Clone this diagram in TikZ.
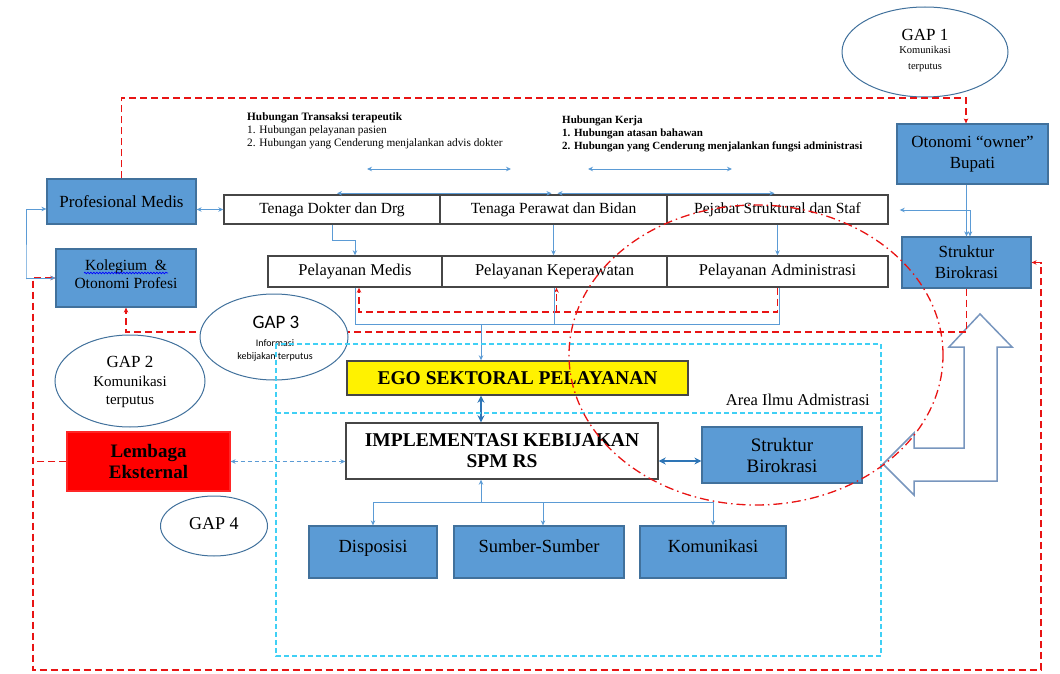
\documentclass[tikz,border=0pt]{standalone}
\usepackage{fontspec}
\setmainfont{Liberation Serif}
\newfontfamily\calfont{Carlito}
\usetikzlibrary{arrows.meta,shapes.geometric,decorations.pathmorphing}
\definecolor{boxblue}{RGB}{91,155,213}
\definecolor{boxedge}{RGB}{65,113,156}
\definecolor{conblue}{RGB}{91,155,213}
\definecolor{darkblue}{RGB}{46,117,182}
\definecolor{areacyan}{RGB}{64,208,245}
\definecolor{arrowedge}{RGB}{120,150,190}
\definecolor{darkedge}{RGB}{70,70,70}
\definecolor{gapred}{RGB}{232,20,20}
\newcommand{\fsz}[2]{\fontsize{#1}{#2}\selectfont}
\pgfdeclarelayer{bg}
\pgfsetlayers{bg,main}

\begin{document}
\begin{tikzpicture}[x=1pt,y=-1pt,>={Stealth[length=5pt,width=4.5pt]},
  bluebox/.style={draw=boxedge, fill=boxblue, line width=1.2pt, inner sep=0pt, align=center},
  plainbox/.style={draw=darkedge, fill=white, line width=1.4pt, inner sep=0pt, align=center},
  gapell/.style={ellipse, draw=boxedge, fill=white, line width=1pt, inner sep=0pt},
  gaptext/.style={inner sep=0pt, align=center},
  bluecon/.style={draw=conblue, line width=1pt},
  bluebold/.style={draw=darkblue, line width=2pt, >={Stealth[length=7pt,width=7pt]}},
  bluedash/.style={draw=conblue, line width=1pt, dash pattern=on 4pt off 3pt},
  reddash/.style={draw=gapred, line width=1.2pt, dash pattern=on 7pt off 4pt},
  reddashdot/.style={draw=gapred, line width=1.3pt, dash pattern=on 9pt off 4pt on 1.5pt off 4pt},
  areadash/.style={draw=areacyan, line width=1.2pt, dash pattern=on 5pt off 3pt},
  blockarrow/.style={draw=arrowedge, fill=white, line width=1.5pt, line join=miter}]
\useasboundingbox (0,0) rectangle (1060,674);

\coordinate (topR) at (966,98);
\coordinate (hubTa) at (367,169);
\coordinate (hubTb) at (511,169);
\coordinate (hubKa) at (588,169);
\coordinate (hubKb) at (732,169);
\coordinate (jn) at (970,210);
\coordinate (lb) at (26,279);
\coordinate (rl) at (33,670);
\coordinate (rr) at (1041,670);
\coordinate (gapline) at (0,332);
\coordinate (redmid) at (0,312);
\coordinate (bluemid) at (0,324);
\coordinate (egoIn) at (481,0);
\coordinate (implY) at (0,461);
\coordinate (tree) at (0,502);
\coordinate (areaNW) at (276,344);
\coordinate (areaSE) at (881,656);
\coordinate (areaW) at (276,413);
\coordinate (areaE) at (881,413);

% gaps
\node[gapell, minimum width=166, minimum height=90] (gap1) at (925,52) {};
\node[gaptext, font=\fsz{17}{20}] (gap1t) at (925,35) {GAP 1};
\node[gaptext, font=\fsz{10.5}{16}] (gap1s) at (925,59) {Komunikasi\\terputus};
\node[gapell, minimum width=150, minimum height=92] (gap2) at (130,381) {};
\node[gaptext, font=\fsz{17}{20}] (gap2t) at (130,362) {GAP 2};
\node[gaptext, font=\fsz{15}{18}] (gap2s) at (130,392) {Komunikasi\\terputus};
\node[gapell, minimum width=148, minimum height=86] (gap3) at (274,337) {};
\node[gaptext, font=\calfont\fsz{19}{22}] (gap3t) at (276,322) {GAP 3};
\node[gaptext, font=\calfont\fsz{10}{13}] (gap3s) at (275,350) {Informasi\\kebijakan terputus};
\node[gapell, minimum width=107, minimum height=60] (gap4) at (214,526) {};
\node[gaptext, font=\fsz{18}{20}] (gap4t) at (214,524) {GAP 4};

% boxes
\node[bluebox, minimum width=151, minimum height=60, font=\fsz{17}{21}] (otonomi) at (972.5,154) {Otonomi “owner”\\Bupati};
\node[bluebox, minimum width=149, minimum height=45, font=\fsz{17}{20}] (profmed) at (121.5,201.5) {Profesional Medis};
\node[bluebox, minimum width=140, minimum height=58, text depth=8pt, font=\fsz{15.5}{18}] (kolegium) at (126,278) {Kolegium \ \&\\Otonomi Profesi};
\node[bluebox, minimum width=129, minimum height=51, font=\fsz{17}{21}] (sbR) at (966.5,262.5) {Struktur\\Birokrasi};
\node[plainbox, minimum width=216, minimum height=29, font=\fsz{15.5}{18}] (tenA) at (332,209.5) {Tenaga Dokter dan Drg};
\node[plainbox, minimum width=227, minimum height=29, font=\fsz{15.5}{18}] (tenB) at (553.5,209.5) {Tenaga Perawat dan Bidan};
\node[plainbox, minimum width=221, minimum height=29, font=\fsz{15.5}{18}] (tenC) at (777.5,209.5) {Pejabat Struktural dan Staf};
\node[plainbox, minimum width=174, minimum height=31, font=\fsz{16.5}{18}] (pelA) at (355,271.5) {Pelayanan Medis};
\node[plainbox, minimum width=225, minimum height=31, font=\fsz{16.5}{18}] (pelB) at (554.5,271.5) {Pelayanan Keperawatan};
\node[plainbox, minimum width=221, minimum height=31, font=\fsz{16.5}{18}] (pelC) at (777.5,271.5) {Pelayanan Administrasi};
\node[plainbox, fill=yellow, minimum width=341, minimum height=34, font=\bfseries\fsz{19.5}{21}] (ego) at (517.5,378) {EGO SEKTORAL PELAYANAN};
\node[plainbox, minimum width=312, minimum height=56, font=\bfseries\fsz{19.5}{21}] (impl) at (502,451) {IMPLEMENTASI KEBIJAKAN\\SPM RS};
\node[bluebox, minimum width=160, minimum height=56, font=\fsz{19}{21}] (sb2) at (782,455) {Struktur\\Birokrasi};
\node[draw=red!85!white, fill=red, line width=1.2pt, inner sep=0pt, align=center, minimum width=163, minimum height=59, font=\bfseries\fsz{19}{21}] (lembaga) at (148.5,461.5) {Lembaga\\Eksternal};
\node[bluebox, minimum width=128, minimum height=52, text depth=12pt, font=\fsz{18.5}{20}] (dispo) at (373,552) {Disposisi};
\node[bluebox, minimum width=170, minimum height=52, text depth=12pt, font=\fsz{18.5}{20}] (sumber) at (539,552) {Sumber-Sumber};
\node[bluebox, minimum width=146, minimum height=52, text depth=12pt, font=\fsz{18.5}{20}] (komu) at (713,552) {Komunikasi};

% texts
\node[anchor=north west, align=left, inner sep=0pt, font=\fsz{11.3}{13}] (hubT) at (247,112) {\textbf{Hubungan Transaksi terapeutik}\\1. Hubungan pelayanan pasien\\2. Hubungan yang Cenderung menjalankan advis dokter};
\node[anchor=north west, align=left, inner sep=0pt, font=\bfseries\fsz{11}{13}] (hubK) at (562,116) {Hubungan Kerja\\1. Hubungan atasan bahawan\\2. Hubungan yang Cenderung menjalankan fungsi administrasi};
\node[anchor=east, inner sep=0pt, font=\fsz{16.5}{18}] (areaLbl) at (870,400) {Area Ilmu Admistrasi};
\draw[blue, line width=0.7pt, decorate, decoration={snake, amplitude=0.8pt, segment length=3pt}] (84,273) -- (168,273);

\begin{pgfonlayer}{bg}
\draw[blockarrow] (980,314) -- (1012,347) -- (997,347) -- (997,481) -- (914,481) -- (914,495) -- (883,464) -- (914,433) -- (914,448) -- (964,448) -- (964,347) -- (949,347) -- cycle;
\draw[reddash,->] (sbR.south) |- (kolegium.south |- gapline) -- (kolegium.south);
\end{pgfonlayer}

% red dashed links
\draw[reddash,->] (profmed.north) |- (topR) -- (topR |- otonomi.north);
\draw[reddash,<->] (kolegium.west) -| (rl) -- (rr) |- (sbR.east);
\draw[reddash] (lembaga.west) -- (lembaga.west -| rl);
\draw[reddash,->] (pelC.south) |- ([xshift=4pt]pelA.south |- redmid) -- ([xshift=4pt]pelA.south);
\draw[reddash,->] ([xshift=2pt]pelB.south |- redmid) -- ([xshift=2pt]pelB.south);

% blue links
\draw[bluecon,<->] (hubTa) -- (hubTb);
\draw[bluecon,<->] (hubKa) -- (hubKb);
\draw[bluecon,<->,shorten <=5pt,shorten >=2pt] ([yshift=1pt]tenA.north) -- ([yshift=1pt]tenB.north);
\draw[bluecon,<->,shorten <=4pt,shorten >=3pt] ([yshift=1pt]tenB.north) -- ([yshift=1pt]tenC.north);
\draw[bluecon,<->] (profmed.east |- tenA.west) -- (tenA.west);
\draw[bluecon,<->] ([yshift=-7.5pt]profmed.west) -| (lb) |- (kolegium.west);
\draw[bluecon,->] (tenA.south) -- ++(0,16) -| (pelA.north);
\draw[bluecon,->] (tenB.south) -- (tenB.south |- pelB.north);
\draw[bluecon,->] (tenC.south) -- (pelC.north);
\draw[bluecon,->] (otonomi.south -| sbR.north) -- (sbR.north);
\draw[bluecon,->,shorten >=11pt] (jn) -- (jn -| tenC.east);
\draw[bluecon,->] (jn) -- (jn |- sbR.north);
\draw[bluecon] (pelA.south) |- ([xshift=2pt]pelC.south |- bluemid) -- ([xshift=2pt]pelC.south);
\draw[bluecon] (pelB.south) -- (pelB.south |- bluemid);
\draw[bluecon,->] (egoIn |- bluemid) -- (egoIn |- ego.north);
\draw[bluebold,<->] (egoIn |- ego.south) -- (egoIn |- impl.north);
\draw[bluebold,<->,line width=1.5pt] (impl.east |- implY) -- (sb2.west |- implY);
\draw[bluedash,<->] (lembaga.east) -- (lembaga.east -| impl.west);
\draw[bluecon,->] (egoIn |- tree) -- (egoIn |- impl.south);
\draw[bluecon] (dispo.north |- tree) -- (komu.north |- tree);
\draw[bluecon,->] (dispo.north |- tree) -- (dispo.north);
\draw[bluecon,->] ([xshift=4pt]sumber.north |- tree) -- ([xshift=4pt]sumber.north);
\draw[bluecon,->] (komu.north |- tree) -- (komu.north);

% area
\draw[areadash] (areaNW) rectangle (areaSE);
\draw[areadash] (areaW) -- (areaE);

% circle
\draw[reddashdot] (756,355) ellipse [x radius=187pt, y radius=150pt];
\end{tikzpicture}
\end{document}
